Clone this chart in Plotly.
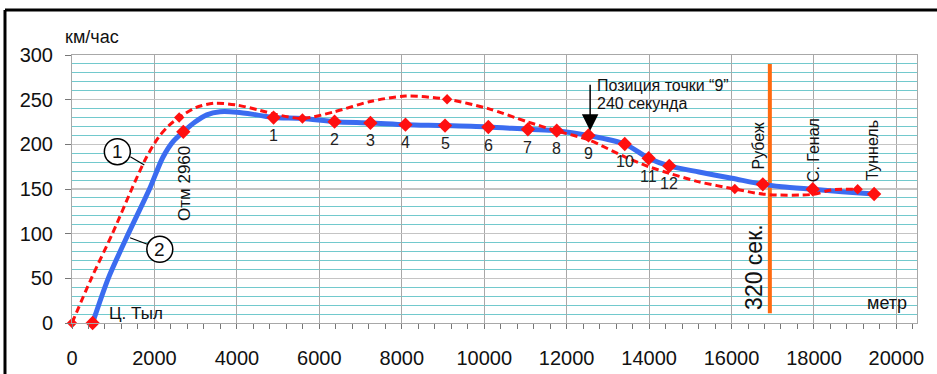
import plotly.graph_objects as go

# ---------------- data ----------------
# Curve 1 (red dashed)
c1_x = [0, 470, 980, 1450, 1800, 2100, 2350, 2600, 3000, 3450, 4000, 4560, 4890, 5590,
        6370, 7240, 8090, 9100, 10100, 11060, 11760, 12530, 13410, 13990, 14490,
        15210, 16080, 16820, 17970, 18430, 19060]
c1_y = [0, 50, 100, 150, 185, 208, 221, 230, 241, 246, 244, 238, 234, 229,
        236.5, 248, 254, 250.4, 240, 225, 215, 205, 186, 175, 167.6,
        158, 150, 144, 144, 149, 149.7]
c1_mx = [0, 2600, 5590, 9100, 16080, 19060]
c1_my = [0, 230, 229, 250.4, 150, 149.7]

# Curve 2 (blue solid)
c2_x = [500, 880, 1367, 1880, 2200, 2450, 2700, 2985, 3270, 3590, 4000, 4480, 4890, 5590,
        6370, 7240, 8090, 9050, 10100, 11060, 11760, 12530, 13410, 13990, 14490,
        15210, 16010, 16760, 17220, 17970, 18680, 19460]
c2_y = [0, 50, 100, 150, 185, 203, 214, 225, 233, 236.5, 236, 233, 230, 229,
        225.4, 224, 222, 221, 219.4, 216.8, 215.3, 210, 200.4, 184.4, 175.8,
        169, 162, 155.2, 152.6, 149.7, 147, 144.4]
c2_mx = [500, 2700, 4890, 6370, 7240, 8090, 9050, 10100, 11060, 11760, 12530,
         13410, 13990, 14490, 16760, 17970, 19460]
c2_my = [0, 214, 230, 225.4, 224, 222, 221, 219.4, 216.8, 215.3, 210,
         200.4, 184.4, 175.8, 155.2, 149.7, 144.4]
c2_labels = ["", "", "1", "2", "3", "4", "5", "6", "7", "8", "9",
             "10", "11", "12", "", "", ""]

# 320 sec marker line
line320_x = [16930, 16930]
line320_y = [11, 290]

x_ticks = [0, 2000, 4000, 6000, 8000, 10000, 12000, 14000, 16000, 18000, 20000]
x_ticktext = ["0", "2000", "4000", "6000", "8000", "10000", "12000", "14000",
              "16000", "18000", "20000"]
y_ticks = [0, 50, 100, 150, 200, 250, 300]

FONT = "Liberation Sans, Arial, sans-serif"
BLUE = "#3b6cf0"
RED = "#ff1010"

fig = go.Figure()

fig.add_trace(go.Scatter(x=line320_x, y=line320_y, mode="lines",
                         line=dict(color="#ff6a10", width=4), hoverinfo="skip"))
fig.add_trace(go.Scatter(x=c2_x, y=c2_y, mode="lines",
                         line=dict(color=BLUE, width=5, shape="spline", smoothing=0.8)))
fig.add_trace(go.Scatter(x=c1_x, y=c1_y, mode="lines",
                         line=dict(color=RED, width=3, dash="7px,4px", shape="spline", smoothing=0.8)))
fig.add_trace(go.Scatter(x=c1_mx, y=c1_my, mode="markers", cliponaxis=False,
                         marker=dict(symbol="diamond", size=8, color=RED)))
fig.add_trace(go.Scatter(x=c2_mx, y=c2_my, mode="markers", cliponaxis=False,
                         marker=dict(symbol="diamond", size=11, color=RED)))

ann = []
for x, y, t in zip(c2_mx, c2_my, c2_labels):
    if t:
        ann.append(dict(x=x, y=y, text=t, showarrow=False, yshift=-18,
                        font=dict(size=16, color="#222", family=FONT)))


def txt(x, y, t, size=16, angle=0, xanchor="center", xref="x", yref="y"):
    ann.append(dict(x=x, y=y, text=t, showarrow=False, textangle=angle,
                    xanchor=xanchor, yanchor="middle", xref=xref, yref=yref,
                    font=dict(size=size, color="#111", family=FONT)))


txt(842, 11, "Ц. Тыл", 17, xanchor="left")
txt(2725, 156, "Отм 2960", 17, angle=-90)
txt(16650, 199, "Рубеж", 16, angle=-90)
txt(17990, 193, "С. Генал", 16, angle=-90)
txt(19430, 194, "Туннель", 16, angle=-90)
txt(16550, 63, "320 сек.", 23, angle=-90)
txt(19775, 22, "метр", 18)
txt(-0.011, 1.067, "км/час", 18, xanchor="left", xref="paper", yref="paper")
txt(12690, 266.4, "Позиция точки “9”", 16, xanchor="left")
txt(12690, 246, "240 секунда", 16, xanchor="left")
# circle numbers
txt(1100, 191.8, "1", 19)
txt(2130, 82.5, "2", 19)

# arrow at point 9
ann.append(dict(x=12570, y=215.3, ax=12570, ay=268.3, axref="x", ayref="y",
                xref="x", yref="y", text="", showarrow=True, arrowhead=2,
                arrowsize=2.2, arrowwidth=1.5, arrowcolor="#000"))

shapes = []
for cx, cy in [(1100, 191.8), (2130, 82.5)]:
    shapes.append(dict(type="circle", xref="x", yref="y", xsizemode="pixel",
                       ysizemode="pixel", xanchor=cx, yanchor=cy,
                       x0=-13, x1=13, y0=-13, y1=13,
                       line=dict(color="#000", width=1.5), fillcolor="white"))
shapes.append(dict(type="line", xref="x", yref="y", x0=1415, y0=186.2, x1=1755, y1=176.9,
                   line=dict(color="#000", width=1.2)))
shapes.append(dict(type="line", xref="x", yref="y", x0=1828, y0=88.1, x1=1408, y1=95.5,
                   line=dict(color="#000", width=1.2)))
# outer frame (top and left)
shapes.append(dict(type="line", xref="paper", yref="paper", x0=-0.0793, x1=1.03, y0=1.168, y1=1.168,
                   line=dict(color="#000", width=3)))
shapes.append(dict(type="line", xref="paper", yref="paper", x0=-0.0793, x1=-0.0793, y0=1.168, y1=-0.25,
                   line=dict(color="#000", width=3)))

fig.update_layout(
    width=937, height=374,
    margin=dict(l=72, r=20, t=55, b=51),
    paper_bgcolor="white", plot_bgcolor="white",
    showlegend=False,
    font=dict(family=FONT, color="#000"),
    annotations=ann, shapes=shapes,
    xaxis=dict(range=[0, 20500], tickvals=x_ticks, ticktext=x_ticktext, automargin=False,
               showgrid=True, gridcolor="#a8a8a8",
               gridwidth=1, zeroline=False, showline=True, linecolor="#a8a8a8", mirror=True,
               ticks="outside", ticklen=5, tickcolor="#777", ticklabelstandoff=12,
               tickfont=dict(size=20, family=FONT, color="#111"),
               minor=dict(dtick=400, tick0=0, ticks="outside", ticklen=5, tickcolor="#777",
                          showgrid=False)),
    yaxis=dict(range=[0, 300], tickvals=y_ticks, automargin=False,
               showgrid=True, gridcolor="#c4c4c4",
               gridwidth=1.5, zeroline=False, showline=True, linecolor="#a8a8a8", mirror=True,
               ticks="outside", ticklen=6, tickcolor="#777", ticklabelstandoff=8,
               tickfont=dict(size=20, family=FONT, color="#111"),
               minor=dict(dtick=10, tick0=0, showgrid=True, gridcolor="#72c9cd", gridwidth=1)),
)

fig.write_html("out.html", config={"displayModeBar": False, "staticPlot": True},
               post_script="document.body.style.margin='0';document.body.style.overflow='hidden';")
